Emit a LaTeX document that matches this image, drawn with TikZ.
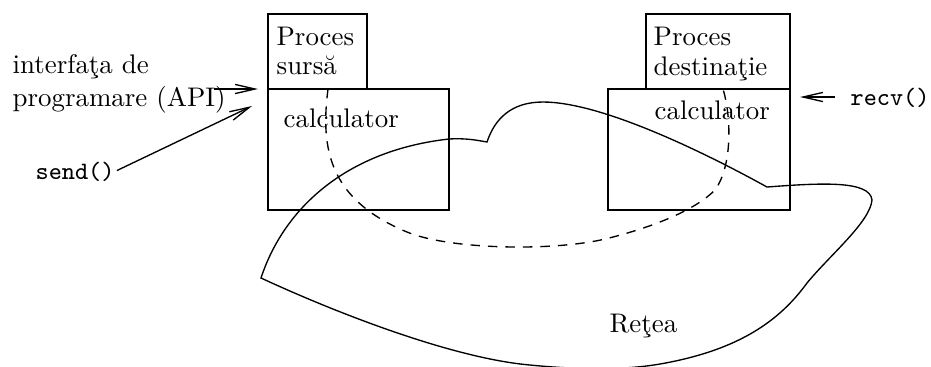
\documentclass[tikz,border=0pt]{standalone}
\usepackage{fontspec}
\usetikzlibrary{arrows.meta,fit}
\begin{document}
\begin{tikzpicture}[x=0.3717pt,y=-0.3717pt,line width=0.5pt,
  txt/.style={anchor=base west,inner sep=0pt,font=\fontsize{10}{12}\selectfont},
  ttxt/.style={anchor=base west,inner sep=0pt,font=\ttfamily\fontsize{9.3}{11}\selectfont},
  frame/.style={draw,inner sep=0pt},
  ptr/.style={-{Straight Barb[length=7.4pt,width=3.4pt]}},
]
\useasboundingbox (0,0) rectangle (931,366);

% hosts and their processes
\node[frame,fit={(268,89) (449,210)}] (srchost) {};
\node[frame,fit={(268,14) (367,89)}] (srcproc) {};
\node[frame,fit={(608,89) (790,210)}] (dsthost) {};
\node[frame,fit={(646,14) (790,89)}] (dstproc) {};

\node[txt] (srcp1) at (276,45) {Proces};
\node[txt] (srcp2) at (276,74) {sursă};
\node[txt] (srcc) at (283,127) {calculator};
\node[txt] (dstp1) at (653,45) {Proces};
\node[txt] (dstp2) at (653,75) {destinaţie};
\node[txt] (dstc) at (654,119) {calculator};

% network cloud
\draw (487,142) .. controls (495,118) and (512,102) .. (543,102)
  .. controls (600,102) and (700,150) .. (767,187)
  .. controls (820,183) and (870,180) .. (872,200)
  .. controls (870,222) and (830,255) .. (807,283)
  .. controls (780,320) and (740,350) .. (660,364)
  .. controls (620,371) and (570,369) .. (530,365)
  .. controls (450,358) and (330,310) .. (261,278)
  .. controls (285,205) and (350,150) .. (449,139)
  .. controls (465,138) and (476,140) .. cycle;
\node[txt] (net) at (609,332) {Reţea};

% logical channel between the processes
\draw[dash pattern=on 3.5pt off 3pt] (328,89)
  .. controls (320,150) and (330,200) .. (407,232)
  .. controls (450,250) and (560,252) .. (613,237)
  .. controls (655,226) and (695,210) .. (715,190)
  .. controls (733,165) and (731,115) .. (723,89);

% API labels
\node[txt] (api1) at (12,73) {interfaţa de};
\node[txt] (api2) at (12,106) {programare (API)};
\node[ttxt] (send) at (35,179) {send()};
\node[ttxt] (recv) at (850,105) {recv()};

\coordinate (apifrom) at (214,89);
\coordinate (apito) at (258,89);
\coordinate (sendto) at (252,106);
\coordinate (recvfrom) at (835,97);
\coordinate (recvto) at (800,97);

\draw[ptr] (apifrom) -- (apito);
\draw[ptr,shorten <=0.7pt] (send.east) -- (sendto);
\draw[ptr] (recvfrom) -- (recvto);
\end{tikzpicture}
\end{document}
